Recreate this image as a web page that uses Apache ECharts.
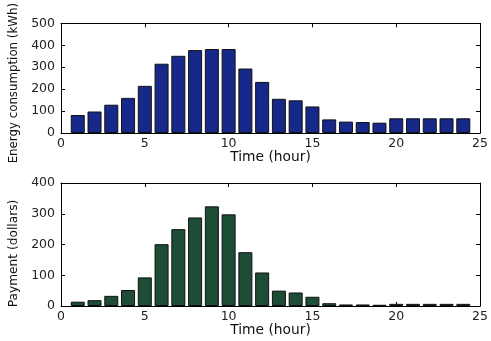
<!DOCTYPE html>
<html>
<head>
<meta charset="utf-8">
<script src="https://cdn.jsdelivr.net/npm/echarts@6/dist/echarts.min.js"></script>
<style>
html,body{margin:0;padding:0;background:#fff;}
#chart{width:491px;height:341px;}
</style>
</head>
<body>
<div id="chart"></div>
<script>
var hours = [1,2,3,4,5,6,7,8,9,10,11,12,13,14,15,16,17,18,19,20,21,22,23,24];
var energy = [82,98,129,160,215,316,352,378,383,383,294,233,156,149,121,62,52,50,47,67,67,67,67,67];
var payment = [14,19,33,52,93,201,250,288,324,298,175,109,50,44,30,9,5,5,4,7,7,7,7,7];
var xTicks = [0,5,10,15,20,25];
var xName = 'Time (hour)';
var yName1 = 'Energy consumption (kWh)';
var yName2 = 'Payment (dollars)';

var FONT = 'DejaVu Sans';
var chart = echarts.init(document.getElementById('chart'));

function xMain(gi){
  return {
    type:'value', gridIndex:gi, min:0, max:25, interval:5, position:'bottom',
    name:xName, nameLocation:'middle', nameGap:15,
    nameTextStyle:{fontFamily:FONT,fontSize:13.8,color:'#111'},
    axisLine:{show:true,onZero:false,lineStyle:{color:'#000',width:1}},
    axisTick:{show:true,inside:true,length:4,lineStyle:{color:'#000'}},
    axisLabel:{show:true,margin:4,fontFamily:FONT,fontSize:12.5,color:'#222'},
    splitLine:{show:false}
  };
}
function xTop(gi){
  return {
    type:'value', gridIndex:gi, min:0, max:25, interval:5, position:'top',
    axisLine:{show:true,onZero:false,lineStyle:{color:'#000',width:1}},
    axisTick:{show:true,inside:true,length:4,lineStyle:{color:'#000'}},
    axisLabel:{show:false}, splitLine:{show:false}
  };
}
function yMain(gi,max,name,fs,pad,gap){
  return {
    type:'value', gridIndex:gi, min:0, max:max, interval:100, position:'left',
    name:name, nameLocation:'middle', nameGap:gap,
    nameTextStyle:{fontFamily:FONT,fontSize:fs,color:'#111',padding:pad},
    axisLine:{show:true,onZero:false,lineStyle:{color:'#000',width:1}},
    axisTick:{show:true,inside:true,length:4,lineStyle:{color:'#000'}},
    axisLabel:{show:true,margin:6,fontFamily:FONT,fontSize:12.5,color:'#222'},
    splitLine:{show:false}
  };
}
function yRight(gi,max){
  return {
    type:'value', gridIndex:gi, min:0, max:max, interval:100, position:'right',
    axisLine:{show:true,onZero:false,lineStyle:{color:'#000',width:1}},
    axisTick:{show:true,inside:true,length:4,lineStyle:{color:'#000'}},
    axisLabel:{show:false}, splitLine:{show:false}
  };
}

var option = {
  backgroundColor:'#fff',
  animation:false,
  grid:[
    {left:61, right:5, top:9, height:124},
    {left:61, right:5, top:183, height:123}
  ],
  xAxis:[xMain(0), xTop(0), xMain(1), xTop(1)],
  yAxis:[yMain(0,500,yName1,11.8,[0,10,0,0],38), yRight(0,500), yMain(1,400,yName2,12.2,[0,18,0,0],38), yRight(1,400)],
  series:[
    {type:'bar', xAxisIndex:0, yAxisIndex:0, barWidth:14,
     data:hours.map(function(h,i){return [h,energy[i]];}),
     itemStyle:{color:'#16298a',borderColor:'#111',borderWidth:1}},
    {type:'bar', xAxisIndex:2, yAxisIndex:2, barWidth:14,
     data:hours.map(function(h,i){return [h,payment[i]];}),
     itemStyle:{color:'#1e4d36',borderColor:'#111',borderWidth:1}}
  ]
};
chart.setOption(option);
</script>
</body>
</html>
